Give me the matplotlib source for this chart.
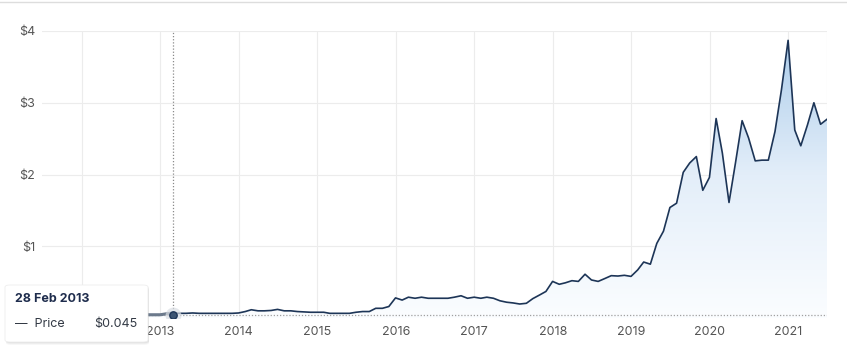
import numpy as np
import pandas as pd
import matplotlib
matplotlib.use('Agg')
import matplotlib.pyplot as plt
import matplotlib.dates as mdates
from matplotlib.patches import FancyBboxPatch
from matplotlib.lines import Line2D

plt.rcParams['font.family'] = ['Inter', 'DejaVu Sans']

# month-end closing prices, Jun 2011 .. Jun 2021
start_date = '2011-06-30'
prices = [
    0.045, 0.045, 0.045, 0.045, 0.045, 0.045, 0.045,
    0.045, 0.045, 0.045, 0.045, 0.045, 0.045, 0.045, 0.045, 0.045, 0.045, 0.045,
    0.045, 0.06, 0.07, 0.065, 0.065, 0.07, 0.065, 0.065, 0.065, 0.065, 0.065, 0.065,
    0.07, 0.09, 0.115, 0.10, 0.10, 0.105, 0.12, 0.10, 0.10, 0.09, 0.085, 0.08,
    0.08, 0.08, 0.065, 0.065, 0.065, 0.065, 0.08, 0.09, 0.09, 0.135, 0.135, 0.16,
    0.28, 0.25, 0.29, 0.275, 0.29, 0.275, 0.275, 0.275, 0.275, 0.29, 0.31, 0.275,
    0.29, 0.275, 0.29, 0.275, 0.24, 0.22, 0.21, 0.195, 0.205, 0.27, 0.32, 0.37,
    0.51, 0.47, 0.49, 0.52, 0.51, 0.61, 0.53, 0.51, 0.55, 0.59, 0.585, 0.595,
    0.58, 0.67, 0.78, 0.75, 1.04, 1.21, 1.54, 1.60, 2.03, 2.16, 2.25, 1.78,
    1.96, 2.78, 2.30, 1.61, 2.16, 2.75, 2.51, 2.19, 2.20, 2.20, 2.60, 3.18,
    3.87, 2.62, 2.40, 2.69, 3.00, 2.70, 2.77,
]
dates = pd.date_range(start_date, periods=len(prices), freq='ME')

y_ticks = [0, 1, 2, 3, 4]
y_labels = ['', '$1', '$2', '$3', '$4']
year_ticks = list(range(2012, 2022))

hover_date = pd.Timestamp('2013-02-28')
hover_label = '28 Feb 2013'
hover_price = 0.045

fig = plt.figure(figsize=(8.47, 3.51), dpi=100)
ax = fig.add_axes([42 / 847, 33 / 351, 785 / 847, 287 / 351])

x = mdates.date2num(dates)
y = np.array(prices)

ax.set_xlim(x[0], x[-1])
ax.set_ylim(0, 4)

# gradient fill under the line
poly = ax.fill_between(x, y, 0, color='none', lw=0)
grad = np.linspace(0, 1, 256).reshape(-1, 1)
cmap = matplotlib.colors.LinearSegmentedColormap.from_list(
    'blu', ['#fbfdff', '#e3eef9', '#aacbea'])
img = ax.imshow(grad, cmap=cmap, aspect='auto', origin='lower',
                extent=[x[0], x[-1], 0, 4], zorder=1)
img.set_clip_path(poly.get_paths()[0], transform=ax.transData)

ax.plot(x, y, color='#1d3557', lw=1.2, zorder=3)

# grid
ax.set_yticks(y_ticks)
ax.set_yticklabels(y_labels)
ax.set_xticks([mdates.date2num(pd.Timestamp(f'{yr}-01-01')) for yr in year_ticks])
ax.set_xticklabels([str(yr) for yr in year_ticks])
ax.grid(True, color='#ececec', lw=0.8, zorder=0)
ax.set_axisbelow(True)
for s in ax.spines.values():
    s.set_visible(False)
ax.tick_params(length=0, labelsize=9, labelcolor='#555555')
ax.tick_params(axis='y', pad=5)
ax.tick_params(axis='x', pad=6)
ax.axvline(x[-1], color='#ececec', lw=0.8, zorder=0)

# crosshair
hx = mdates.date2num(hover_date)
ax.axvline(hx, color='#8a8a8a', lw=0.9, ls=(0, (1, 1.5)), zorder=4)
ax.axhline(hover_price, color='#a0a0a0', lw=0.9, ls=(0, (1, 1.5)), zorder=2)
ax.plot(x[x <= hx], y[x <= hx], color='#6c7a8c', lw=2.2, zorder=3)
ax.scatter([hx], [hover_price], s=130, color='#d9dde3', alpha=0.7, zorder=5, lw=0)
ax.scatter([hx], [hover_price], s=28, color='#3c5472', edgecolor='#1d3557', lw=1, zorder=6)

# page border line at top
fig.add_artist(Line2D([0, 1], [1 - 2 / 351, 1 - 2 / 351], color='#dddddd', lw=1))

# tooltip
W, H = 847, 351
bx, by, bw, bh = 5, 285, 143, 57
for i, a in enumerate([0.05, 0.04, 0.03]):
    sh = FancyBboxPatch(((bx + 1) / W, 1 - (by + bh + 1 + i) / H), bw / W, bh / H,
                        boxstyle='round,pad=0,rounding_size=0.006',
                        transform=fig.transFigure, facecolor='black', alpha=a,
                        edgecolor='none', zorder=9)
    fig.add_artist(sh)
box = FancyBboxPatch((bx / W, 1 - (by + bh) / H), bw / W, bh / H,
                     boxstyle='round,pad=0,rounding_size=0.006',
                     transform=fig.transFigure, facecolor='white',
                     edgecolor='#eeeeee', lw=0.6, zorder=10)
fig.add_artist(box)
fig.text(15 / W, 1 - 299 / H, hover_label, fontsize=9, fontweight='bold',
         color='#1f2d4d', va='center', ha='left', zorder=11)
fig.text(15 / W, 1 - 324 / H, '\u2014  Price', fontsize=9, color='#333a45',
         va='center', ha='left', zorder=11)
fig.text(137 / W, 1 - 324 / H, f'${hover_price}', fontsize=9, color='#333a45',
         va='center', ha='right', zorder=11)

fig.savefig('out.png', dpi=100)
